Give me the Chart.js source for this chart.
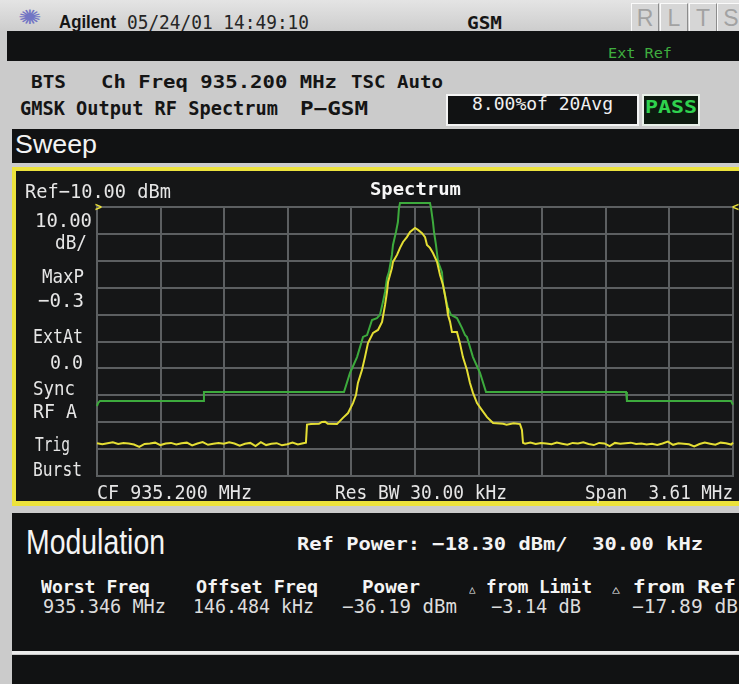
<!DOCTYPE html>
<html>
<head>
<meta charset="utf-8">
<script src="https://cdn.jsdelivr.net/npm/chart.js@4.4.1/dist/chart.umd.min.js"></script>
<style>
  body { margin: 0; width: 739px; height: 684px; overflow: hidden; background: #cbcbcb; position: relative; }
  .blk { position: absolute; }
  .t { position: absolute; white-space: pre; line-height: 1; transform-origin: 0 0; }
  .key { position: absolute; top: 3px; width: 26px; height: 28px; background: #d6d6d6;
         border-top: 1px solid #fafafa; border-left: 1px solid #fafafa;
         border-bottom: 1px solid #8c8c8c; border-right: 1px solid #8c8c8c;
         color: #a2a2a2; font: 23px "Liberation Sans", sans-serif; text-align: center; line-height: 28px; }
  #spec { position: absolute; left: 90px; top: 195px; }
</style>
</head>
<body>
<!-- top title bar -->
<div class="blk" style="left:0;top:0;width:739px;height:31px;background:linear-gradient(#e4e4e4,#cdcdcd)"></div>
<div class="key" style="left:631px">R</div>
<div class="key" style="left:660px">L</div>
<div class="key" style="left:689px">T</div>
<div class="key" style="left:717px">S</div>
<div class="blk" style="left:7px;top:31px;width:732px;height:30px;background:#111213"></div>

<!-- result boxes -->
<div class="blk" style="left:446px;top:94px;width:189px;height:28px;background:#111213;border:2px solid #f4f4f4"></div>
<div class="blk" style="left:642px;top:94px;width:54px;height:28px;background:#0d1a0f;border:2px solid #e8f0e8"></div>

<!-- sweep window -->
<div class="blk" style="left:12px;top:129px;width:727px;height:34px;background:#111213"></div>
<div class="blk" style="left:12px;top:167px;width:723px;height:330px;background:#151617;border-top:4px solid #ece23c;border-left:4px solid #ece23c;border-bottom:5px solid #ece23c"></div>
<canvas id="spec" width="649" height="290"></canvas>

<!-- modulation window -->
<div class="blk" style="left:12px;top:513px;width:727px;height:138px;background:#111213"></div>
<div class="blk" style="left:12px;top:651px;width:727px;height:3px;background:#ececec"></div>
<div class="blk" style="left:12px;top:655px;width:727px;height:29px;background:#111213"></div>

<script>
// screen divisions (offset from CF in MHz, level in dBm)
const xTicks = [-1.805, -1.444, -1.083, -0.722, -0.361, 0, 0.361, 0.722, 1.083, 1.444, 1.805];
const yTicks = [-110, -100, -90, -80, -70, -60, -50, -40, -30, -20, -10];

// limit mask (green)
const limitFreq = [-1.805, -1.799, -1.788, -1.203, -1.198, -0.403, -0.369, -0.329, -0.295, -0.272,
  -0.244, -0.216, -0.199, -0.182, -0.170, -0.159, -0.148, -0.131, -0.125, -0.108,
  -0.097, -0.091, -0.085, 0.085, 0.091, 0.102, 0.108, 0.119, 0.131, 0.153,
  0.159, 0.170, 0.187, 0.204, 0.238, 0.244, 0.267, 0.284, 0.295, 0.329,
  0.369, 0.403, 1.198, 1.203, 1.794, 1.805];
const limitLevel = [-84.0, -82.9, -82.1, -82.1, -78.8, -78.8, -71.7, -65.8, -58.3, -57.6,
  -52.0, -51.3, -50.1, -45.3, -41.6, -36.4, -34.2, -27.8, -24.1, -19.3,
  -15.6, -10.4, -8.5, -8.5, -10.4, -15.6, -19.3, -24.1, -30.4, -34.2,
  -39.0, -42.7, -47.5, -50.1, -51.3, -52.0, -55.0, -57.6, -58.3, -65.8,
  -71.7, -78.8, -78.8, -82.1, -82.1, -83.5];

// measured trace (yellow)
const traceFreq = [
  -1.805, -1.775, -1.745, -1.715, -1.685, -1.655, -1.625, -1.595, -1.565, -1.535,
  -1.505, -1.475, -1.445, -1.415, -1.385, -1.355, -1.325, -1.295, -1.265, -1.235,
  -1.205, -1.175, -1.145, -1.115, -1.085, -1.055, -1.025, -0.995, -0.965, -0.935,
  -0.905, -0.875, -0.845, -0.815, -0.785, -0.755, -0.725, -0.695, -0.665, -0.635,
  -0.619, -0.613, -0.590, -0.545, -0.528, -0.510, -0.495, -0.443,
  -0.409, -0.380, -0.352, -0.335, -0.324, -0.301, -0.284, -0.267, -0.238, -0.210,
  -0.187, -0.170, -0.159, -0.153, -0.142, -0.131, -0.125, -0.102, -0.085, -0.068,
  -0.046, -0.028, 0.000, 0.017, 0.040, 0.057, 0.068, 0.085, 0.102, 0.125,
  0.142, 0.159, 0.170, 0.182, 0.187, 0.199, 0.210, 0.238, 0.255, 0.272,
  0.295, 0.312, 0.329, 0.352, 0.380, 0.409, 0.443, 0.500, 0.520, 0.560,
  0.596, 0.607, 0.613,
  0.625, 0.655, 0.685, 0.715, 0.745, 0.775, 0.805, 0.835, 0.865, 0.895,
  0.925, 0.955, 0.985, 1.015, 1.045, 1.075, 1.105, 1.135, 1.165, 1.195,
  1.225, 1.255, 1.285, 1.315, 1.345, 1.375, 1.405, 1.435, 1.465, 1.495,
  1.525, 1.555, 1.585, 1.615, 1.645, 1.675, 1.705, 1.735, 1.765, 1.795, 1.805];
const traceLevel = [
  -97.8, -98.2, -97.8, -97.5, -98.1, -97.7, -97.9, -98.3, -99.2, -98.1,
  -97.9, -97.6, -98.5, -97.9, -97.7, -98.3, -97.8, -97.6, -98.6, -97.9,
  -97.4, -98.4, -98.0, -97.7, -98.0, -97.5, -97.9, -98.7, -98.0, -97.7,
  -98.9, -97.4, -98.5, -98.0, -97.8, -98.6, -98.2, -97.6, -98.3, -97.8,
  -97.6, -90.9, -90.7, -90.6, -89.9, -89.8, -90.6, -90.7,
  -88.4, -86.6, -82.9, -79.9, -75.4, -70.6, -65.8, -60.6, -56.8, -55.7,
  -52.7, -46.4, -41.6, -37.9, -35.3, -32.7, -30.4, -27.8, -25.2, -23.0,
  -21.2, -19.3, -17.8, -18.5, -19.7, -21.2, -24.1, -25.2, -27.1, -30.4,
  -35.3, -39.0, -42.7, -47.5, -50.1, -52.7, -56.5, -56.5, -60.6, -65.8,
  -70.6, -75.4, -79.1, -82.9, -85.5, -88.1, -90.3, -90.6, -90.9, -90.4,
  -90.7, -92.9, -97.7,
  -98.0, -97.6, -98.1, -97.7, -97.9, -98.2, -97.6, -98.0, -98.4, -97.7,
  -97.9, -97.5, -98.1, -98.5, -97.7, -97.9, -98.9, -97.7, -98.0, -97.8,
  -97.6, -98.1, -97.9, -98.3, -98.0, -98.5, -97.9, -97.2, -98.4, -97.8,
  -98.0, -98.2, -99.0, -98.1, -97.6, -98.0, -98.4, -97.6, -97.8, -98.3, -97.6];

const MONO = '"DejaVu Sans Mono", monospace';
const SANS = '"Liberation Sans", Arial, sans-serif';

// place text by left edge and cap top, squeezed to the width seen on screen
function put(txt, x, capTop, size, w, o = {}) {
  const el = document.createElement('div');
  el.className = 't';
  el.innerHTML = txt;
  el.style.left = x + 'px';
  el.style.top = (capTop - size * 0.12) + 'px';
  el.style.fontSize = size + 'px';
  el.style.fontFamily = o.sans ? SANS : MONO;
  el.style.fontWeight = o.bold ? 'bold' : 'normal';
  el.style.color = o.color || '#151515';
  document.body.appendChild(el);
  if (w) el.style.transform = 'scaleX(' + (w / el.getBoundingClientRect().width) + ')';
}

// header
put('✺', 18, 9, 20, 24, { sans: true, color: '#7275c4' });
put('Agilent', 59, 15, 18, 57, { sans: true, bold: true });
put('05/24/01 14:49:10', 127, 15, 19, 182, { color: '#262626' });
put('GSM', 467, 16, 18, 35, { bold: true });
put('Ext Ref', 608, 48, 14, 64, { color: '#3fae3f' });
put('BTS', 31, 75, 18, 35, { bold: true });
put('Ch Freq 935.200 MHz', 101, 75, 18, 236, { bold: true });
put('TSC Auto', 351, 75, 18, 92, { bold: true });
put('GMSK Output RF Spectrum', 20, 101, 19, 258, { bold: true });
put('P−GSM', 300, 101, 19, 68, { bold: true });
put('8.00%of 20Avg', 472, 98, 17, 141, { color: '#f0f0f0' });
put('PASS', 645, 100, 18, 52, { bold: true, color: '#2fd24e' });
put('Sweep', 15, 135, 25, 82, { sans: true, color: '#f4f4f4' });

// sweep window annotations
const W = '#e6e6e6';
put('Ref−10.00 dBm', 25, 183, 20, 146, { color: W });
put('Spectrum', 370, 183, 17, 91, { bold: true, color: '#f6f6f6' });
put('10.00', 35, 212, 20, 57, { color: W });
put('dB/', 55, 234, 20, 32, { color: W });
put('MaxP', 42, 268, 20, 42, { color: W });
put('−0.3', 38, 292, 20, 46, { color: W });
put('ExtAt', 33, 328, 20, 50, { color: W });
put('0.0', 50, 355, 19, 33, { color: W });
put('Sync', 33, 380, 20, 42, { color: W });
put('RF A', 33, 403, 20, 44, { color: W });
put('Trig', 35, 436, 20, 35, { color: W });
put('Burst', 33, 462, 19, 49, { color: W });
put('CF 935.200 MHz', 97, 485, 19, 155, { color: W });
put('Res BW 30.00 kHz', 335, 485, 19, 172, { color: W });
put('Span  3.61 MHz', 585, 485, 19, 148, { color: W });
put('&gt;', 95, 202, 13, 7, { bold: true, color: '#ece23c' });
put('&lt;', 732, 202, 13, 7, { bold: true, color: '#ece23c' });

// modulation window
put('Modulation', 26, 528, 35, 139, { sans: true, color: '#f4f4f4' });
put('Ref Power: −18.30 dBm/  30.00 kHz', 297, 537, 18, 406, { bold: true, color: '#f4f4f4' });
const small = '<span style="font-size:11px;font-weight:normal">△</span>';
put('Worst Freq', 41, 580, 18, 109, { bold: true, color: '#f4f4f4' });
put('Offset Freq', 196, 580, 18, 122, { bold: true, color: '#f4f4f4' });
put('Power', 362, 580, 18, 58, { bold: true, color: '#f4f4f4' });
put(small + ' from Limit', 469, 580, 18, 123, { bold: true, color: '#f4f4f4' });
put(small + ' from Ref', 612, 580, 18, 124, { bold: true, color: '#f4f4f4' });
put('935.346 MHz', 43, 599, 19, 123, { color: '#dcdcdc' });
put('146.484 kHz', 193, 599, 19, 121, { color: '#dcdcdc' });
put('−36.19 dBm', 342, 599, 19, 115, { color: '#dcdcdc' });
put('−3.14 dB', 491, 599, 19, 90, { color: '#dcdcdc' });
put('−17.89 dB', 632, 599, 19, 106, { color: '#dcdcdc' });

// graticule drawn from the scales
const gridPlugin = {
  id: 'graticule',
  beforeDatasetsDraw(chart) {
    const { ctx, chartArea: a, scales: { x, y } } = chart;
    ctx.save();
    ctx.strokeStyle = '#5c5f61';
    ctx.lineWidth = 2;
    ctx.beginPath();
    xTicks.forEach(v => {
      const px = Math.round(x.getPixelForValue(v));
      ctx.moveTo(px, a.top - 1); ctx.lineTo(px, a.bottom + 1);
    });
    yTicks.forEach(v => {
      const py = Math.round(y.getPixelForValue(v));
      ctx.moveTo(a.left - 1, py); ctx.lineTo(a.right + 1, py);
    });
    ctx.stroke();
    ctx.restore();
  }
};

const pts = (xs, ys) => xs.map((v, i) => ({ x: v, y: ys[i] }));

new Chart(document.getElementById('spec'), {
  type: 'line',
  data: {
    datasets: [
      {
        label: 'Trace',
        data: pts(traceFreq, traceLevel),
        borderColor: '#e4de34',
        borderWidth: 2,
        pointRadius: 0,
        tension: 0,
        clip: false
      },
      {
        label: 'Limit',
        data: pts(limitFreq, limitLevel),
        borderColor: '#3daa3d',
        borderWidth: 2,
        pointRadius: 0,
        tension: 0,
        clip: false
      }
    ]
  },
  options: {
    responsive: false,
    animation: false,
    layout: { padding: { left: 7, top: 12, right: 6, bottom: 9 } },
    plugins: { legend: { display: false }, tooltip: { enabled: false } },
    scales: {
      x: { type: 'linear', display: false, min: -1.805, max: 1.805 },
      y: { display: false, min: -110, max: -10 }
    }
  },
  plugins: [gridPlugin]
});
</script>
</body>
</html>
